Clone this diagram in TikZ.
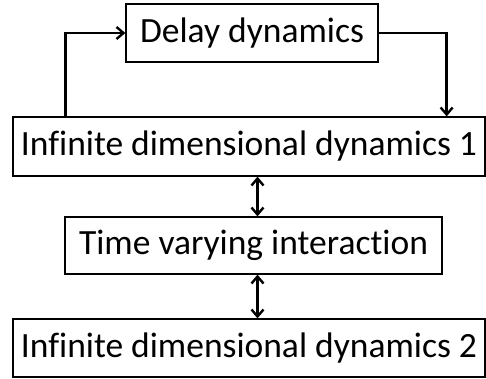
\documentclass[tikz,border=0pt]{standalone}
\usepackage{fontspec}
\setmainfont[Ligatures=NoCommon]{Carlito}
\usetikzlibrary{arrows.meta}
\tikzset{
  blk/.style={draw, line width=1.3pt, inner sep=0pt, font=\fontsize{35.5}{40}\selectfont},
  conn/.style={line width=2.4pt, -{Straight Barb[length=7pt,width=12pt]}},
  both/.style={line width=2.4pt, {Straight Barb[length=7pt,width=12pt]}-{Straight Barb[length=7pt,width=12pt]}}
}
\begin{document}
\begin{tikzpicture}[x=1pt,y=1pt]
\useasboundingbox (0,0) rectangle (486,378);

% boxes
\node[blk, minimum width=252pt, minimum height=58pt] (delay) at (252,345) {Delay dynamics};
\node[blk, minimum width=472pt, minimum height=59pt] (inf1) at (249,231.5) {Infinite dimensional dynamics 1};
\node[blk, minimum width=377pt, minimum height=57pt] (vary) at (253.5,132.5) {Time varying interaction};
\node[blk, minimum width=472pt, minimum height=58pt] (inf2) at (249,30) {Infinite dimensional dynamics 2};

% feedback loop
\draw[conn] ([xshift=53pt]inf1.north west) |- (delay.west);
\draw[conn] (delay.east) -| ([xshift=-39pt]inf1.north east);

% interactions
\draw[both] ([xshift=4pt]vary.north |- inf1.south) -- ([xshift=4pt]vary.north);
\draw[both] ([xshift=4pt]vary.south) -- ([xshift=4pt]vary.south |- inf2.north);

\end{tikzpicture}
\end{document}
